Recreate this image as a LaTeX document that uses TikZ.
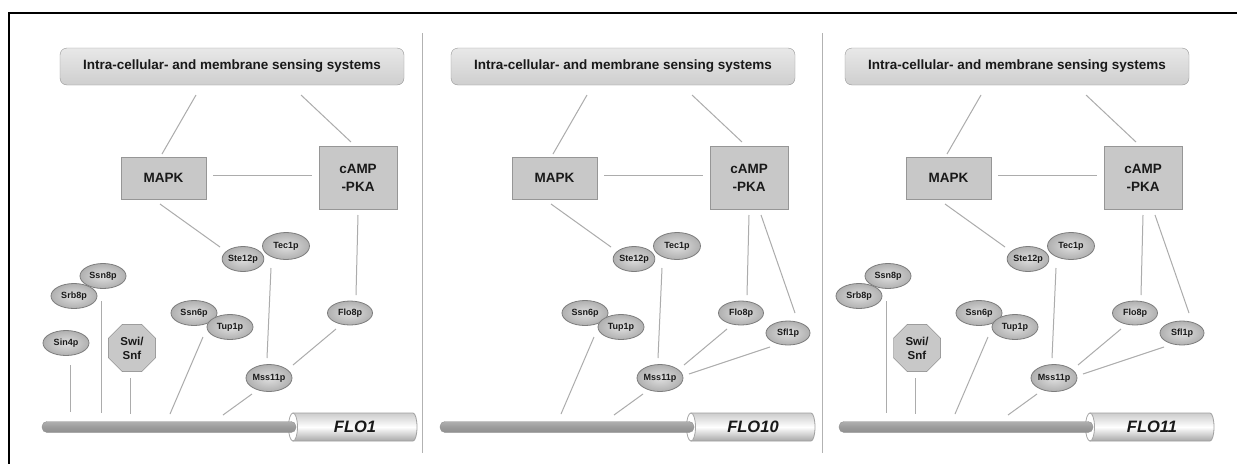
\documentclass[tikz,border=0pt]{standalone}
\usepackage{fontspec}
\setmainfont{Liberation Sans}
\usetikzlibrary{shapes.geometric,calc}
\definecolor{linegray}{RGB}{172,172,172}
\definecolor{boxedge}{RGB}{150,150,150}
\definecolor{boxfill}{RGB}{200,200,200}
\definecolor{protedge}{RGB}{125,125,125}
\definecolor{txt}{RGB}{25,25,25}
\tikzset{
  conn/.style={draw=linegray, line width=1pt},
  sysbox/.style={rounded corners=7pt, draw=boxedge, top color=gray!18, bottom color=gray!38,
    minimum width=344pt, minimum height=37pt, inner sep=0pt, text=txt,
    font=\bfseries\fontsize{13.5}{16}\selectfont},
  kinase/.style={draw=boxedge, fill=boxfill, inner sep=0pt, align=center, text=txt,
    font=\bfseries\fontsize{13.5}{18}\selectfont},
  prot/.style={ellipse, draw=protedge, line width=0.8pt, inner color=gray!25, outer color=gray!62, inner sep=0pt,
    minimum width=46pt, minimum height=25pt, text=txt, font=\bfseries\fontsize{9}{10}\selectfont},
  remod/.style={regular polygon, regular polygon sides=8, minimum size=51pt, inner sep=0pt,
    draw=protedge, fill=boxfill, align=center, text=txt, font=\bfseries\fontsize{11.5}{14}\selectfont},
  genelabel/.style={inner sep=0pt, text=txt, font=\bfseries\itshape\fontsize{16.5}{18}\selectfont},
}
\newcommand\corepanel[2]{%
  \node[sysbox] (top) at (232,66.5) {Intra-cellular- and membrane sensing systems};
  \node[kinase, minimum width=85pt, minimum height=42pt] (mapk) at (163.5,178) {MAPK};
  \node[kinase, minimum width=78pt, minimum height=63pt] (camp) at (358,177.5) {cAMP\\-PKA};
  \node[prot, minimum width=47pt, minimum height=27pt] (tec) at (286,246) {Tec1p};
  \node[prot, minimum width=41pt] (ste) at (243,259) {Ste12p};
  \node[prot] (ssn6) at (194,313) {Ssn6p};
  \node[prot] (tup) at (230,327) {Tup1p};
  \node[prot, minimum width=45pt, minimum height=24pt] (flo8) at (350,313) {Flo8p};
  \node[prot, minimum width=44pt, minimum height=27pt] (mss) at (269,378) {Mss11p};
  \begin{scope}[xshift=#1]
    \path[top color=gray!40, bottom color=gray!68, middle color=white, draw=gray!75, line width=0.8pt]
      (293,413) -- (413,413) arc[start angle=-90, end angle=90, x radius=4, y radius=14]
      -- (293,441) -- cycle;
    \filldraw[fill=white, draw=gray!70, line width=0.8pt] (293,427) ellipse [x radius=4.5, y radius=14];
    \path[rounded corners=5pt, top color=gray!62, bottom color=gray!88, middle color=gray!78, draw=gray!85]
      (42,421.5) rectangle (296,432.5);
    \node[genelabel] (gene) at (355,427) {#2};
  \end{scope}
  \coordinate (tupend) at (170,414);
  \coordinate (mssend) at (223,415);
  \draw[conn] ($(top.center)+(-36,28.5)$) -- ($(mapk.center)+(-1.5,-24)$);
  \draw[conn] ($(top.center)+(69,28.5)$) -- ($(camp.center)+(-7,-35.5)$);
  \draw[conn] ($(mapk.center)+(49.5,-3)$) -- ($(camp.center)+(-46,-2.5)$);
  \draw[conn] ($(mapk.center)+(-3.5,26)$) -- ($(ste.center)+(-23,-12)$);
  \draw[conn] ($(camp.center)+(0,37.5)$) -- ($(flo8.center)+(6,-18)$);
  \draw[conn] ($(ste.center)+(28,9)$) -- ($(mss.center)+(-2,-20)$);
  \draw[conn] ($(flo8.center)+(-14,16)$) -- ($(mss.center)+(24,-13)$);
  \draw[conn] ($(mss.center)+(-17,16)$) -- (mssend);
  \draw[conn] ($(tup.center)+(-27,10)$) -- (tupend);
}
\newcommand\leftgroup{%
  \node[prot] (ssn8) at (103,276) {Ssn8p};
  \node[prot] (srb8) at (74,296) {Srb8p};
  \node[remod] (swi) at (132,348) {Swi/\\Snf};
  \coordinate (srbend) at (101,413);
  \coordinate (swiend) at (130,414);
  \draw[conn] ($(srb8.center)+(27,5)$) -- (srbend);
  \draw[conn] ($(swi.center)+(-2,30)$) -- (swiend);
}
\newcommand\sflgroup{%
  \node[prot, minimum width=44pt, minimum height=24pt] (sfl) at (397,333) {Sfl1p};
  \draw[conn] ($(camp.center)+(12,37.5)$) -- ($(sfl.center)+(7,-20)$);
  \draw[conn] ($(sfl.center)+(-18,14)$) -- ($(mss.center)+(29,-4)$);
}
\begin{document}
\begin{tikzpicture}[x=1pt, y=-1pt]
  \useasboundingbox (0,0) rectangle (1237,464);
  \fill[white] (0,0) rectangle (1237,464);
  \draw[line width=2.5pt] (8,13) -- (1237,13);
  \draw[line width=2.5pt] (9,12) -- (9,464);
  \draw[gray!60, line width=1pt] (422,33) -- (422,453);
  \draw[gray!60, line width=1pt] (822,33) -- (822,453);
  \begin{scope}[name prefix=pa-]
    \corepanel{0}{FLO1}
    \leftgroup
    \node[prot] (sin4) at (66,343) {Sin4p};
    \coordinate (sinend) at (70,412);
    \draw[conn] ($(sin4.center)+(4,22)$) -- (sinend);
  \end{scope}
  \begin{scope}[xshift=391pt, name prefix=pb-]
    \corepanel{7}{FLO10}
    \sflgroup
  \end{scope}
  \begin{scope}[xshift=785pt, name prefix=pc-]
    \corepanel{12}{FLO11}
    \leftgroup
    \sflgroup
  \end{scope}
\end{tikzpicture}
\end{document}
